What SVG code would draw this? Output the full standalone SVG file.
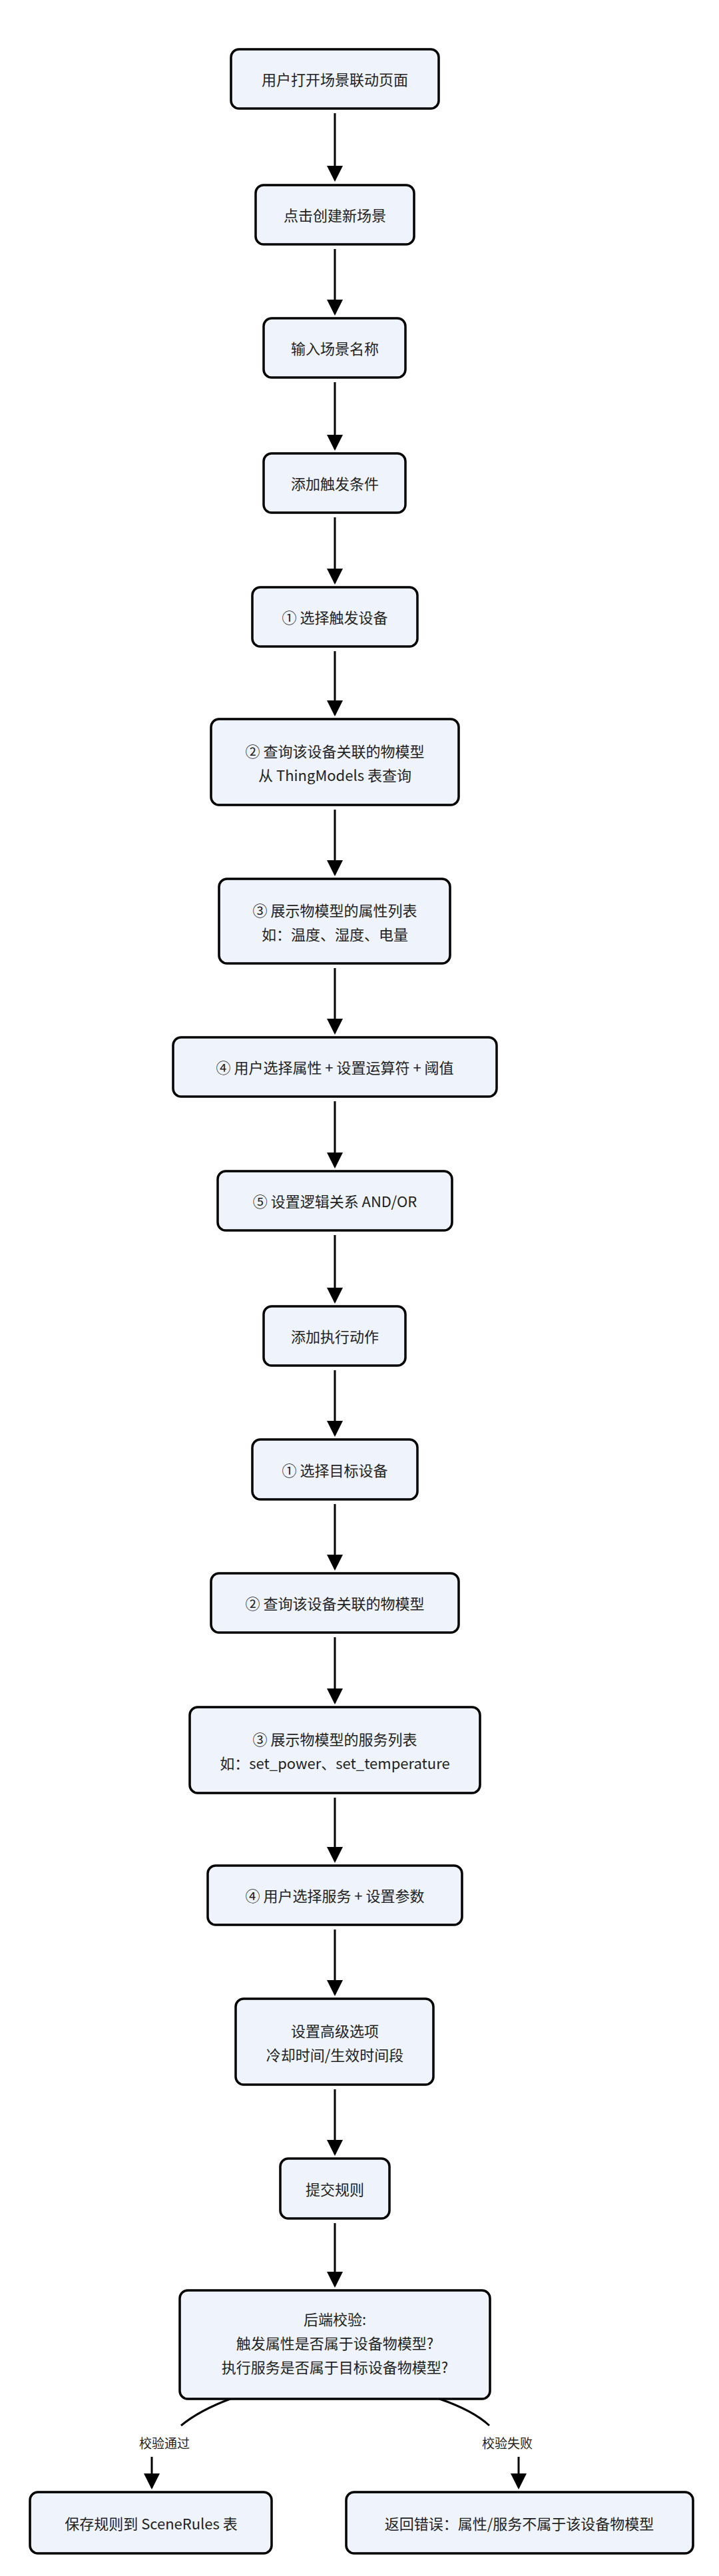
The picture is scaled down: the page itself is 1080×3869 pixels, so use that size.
<svg xmlns="http://www.w3.org/2000/svg" width="1080" height="3869" viewBox="0 0 1080 3869">
<defs>
<marker id="ah" markerWidth="8" markerHeight="8" refX="7" refY="4" orient="auto" markerUnits="strokeWidth"><path d="M0,0 L8,4 L0,8 z" fill="#000"/></marker>
<style>
.n rect{fill:#eef3fc;stroke:#000;stroke-width:3.5}
text{font-family:"Noto Sans CJK SC","Noto Sans",sans-serif;font-size:22px;fill:#222;text-anchor:middle;dominant-baseline:central}
.l{font-size:19px}
.e path{fill:none;stroke:#000;stroke-width:3;marker-end:url(#ah)}
.e path.p{marker-end:none}
</style>
</defs>
<rect width="1080" height="3869" fill="#fff"/>
<g class="e">
<path d="M503,170 V270"/>
<path d="M503,374 V471"/>
<path d="M503,574 V674"/>
<path d="M503,777 V875"/>
<path d="M503,978 V1073"/>
<path d="M503,1216 V1313"/>
<path d="M503,1454 V1551"/>
<path d="M503,1654 V1752"/>
<path d="M503,1855 V1955"/>
<path d="M503,2058 V2155"/>
<path d="M503,2259 V2356"/>
<path d="M503,2459 V2557"/>
<path d="M503,2700 V2795"/>
<path d="M503,2898 V2995"/>
<path d="M503,3138 V3235"/>
<path d="M503,3339 V3433"/>
<path class="p" d="M346,3603 Q300,3620 272,3643"/>
<path d="M228,3690 V3736"/>
<path class="p" d="M660,3603 Q710,3620 735,3643"/>
<path d="M779,3690 V3736"/>
</g>
<text class="l" x="247" y="3668">校验通过</text>
<text class="l" x="762" y="3668">校验失败</text>
<g class="n" id="n1"><rect x="347" y="74" width="312" height="89" rx="12"/><text x="503" y="118">用户打开场景联动页面</text></g>
<g class="n" id="n2"><rect x="384" y="278" width="238" height="89" rx="12"/><text x="503" y="322">点击创建新场景</text></g>
<g class="n" id="n3"><rect x="396" y="478" width="213" height="89" rx="12"/><text x="503" y="522">输入场景名称</text></g>
<g class="n" id="n4"><rect x="396" y="681" width="213" height="89" rx="12"/><text x="503" y="725">添加触发条件</text></g>
<g class="n" id="n5"><rect x="379" y="882" width="248" height="89" rx="12"/><text x="503" y="926">① 选择触发设备</text></g>
<g class="n" id="n6"><rect x="317" y="1080" width="372" height="129" rx="12"/><text x="503" y="1127">② 查询该设备关联的物模型</text><text x="503" y="1163">从 ThingModels 表查询</text></g>
<g class="n" id="n7"><rect x="329" y="1320" width="347" height="127" rx="12"/><text x="503" y="1366">③ 展示物模型的属性列表</text><text x="503" y="1402">如：温度、湿度、电量</text></g>
<g class="n" id="n8"><rect x="260" y="1558" width="486" height="89" rx="12"/><text x="503" y="1602">④ 用户选择属性 + 设置运算符 + 阈值</text></g>
<g class="n" id="n9"><rect x="327" y="1759" width="352" height="89" rx="12"/><text x="503" y="1803">⑤ 设置逻辑关系 AND/OR</text></g>
<g class="n" id="n10"><rect x="396" y="1962" width="213" height="89" rx="12"/><text x="503" y="2006">添加执行动作</text></g>
<g class="n" id="n11"><rect x="379" y="2162" width="248" height="90" rx="12"/><text x="503" y="2207">① 选择目标设备</text></g>
<g class="n" id="n12"><rect x="317" y="2363" width="372" height="89" rx="12"/><text x="503" y="2407">② 查询该设备关联的物模型</text></g>
<g class="n" id="n13"><rect x="285" y="2564" width="436" height="129" rx="12"/><text x="503" y="2611">③ 展示物模型的服务列表</text><text x="503" y="2647">如：set_power、set_temperature</text></g>
<g class="n" id="n14"><rect x="312" y="2802" width="382" height="89" rx="12"/><text x="503" y="2846">④ 用户选择服务 + 设置参数</text></g>
<g class="n" id="n15"><rect x="354" y="3002" width="297" height="129" rx="12"/><text x="503" y="3049">设置高级选项</text><text x="503" y="3085">冷却时间/生效时间段</text></g>
<g class="n" id="n16"><rect x="421" y="3242" width="164" height="90" rx="12"/><text x="503" y="3287">提交规则</text></g>
<g class="n" id="n17"><rect x="270" y="3440" width="466" height="163" rx="12"/><text x="503" y="3482">后端校验:</text><text x="503" y="3518">触发属性是否属于设备物模型?</text><text x="503" y="3554">执行服务是否属于目标设备物模型?</text></g>
<g class="n" id="n18"><rect x="45" y="3743" width="363" height="92" rx="12"/><text x="227" y="3789">保存规则到 SceneRules 表</text></g>
<g class="n" id="n19"><rect x="520" y="3743" width="521" height="92" rx="12"/><text x="780" y="3789">返回错误：属性/服务不属于该设备物模型</text></g>
</svg>
